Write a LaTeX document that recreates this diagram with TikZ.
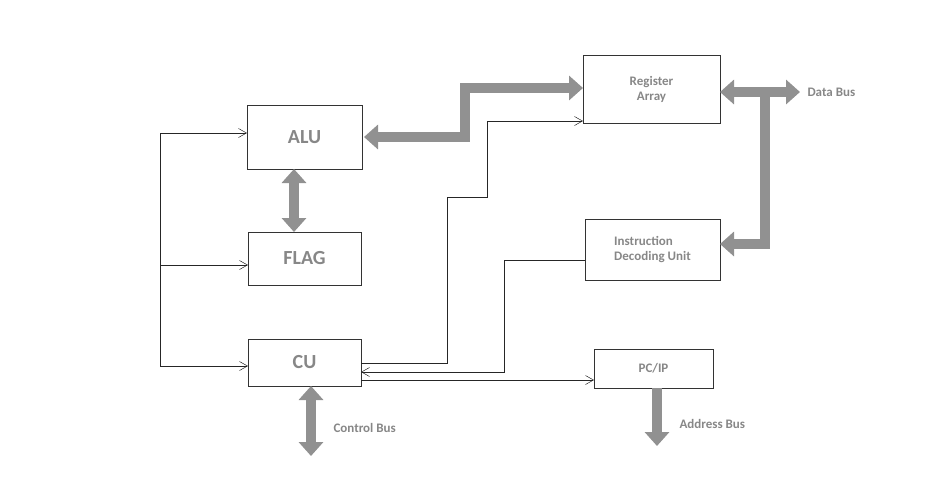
\documentclass[tikz,border=0pt]{standalone}
\usepackage{fontspec}
\setmainfont{Carlito}
\usetikzlibrary{arrows.meta}
\definecolor{bus}{RGB}{145,145,145}
\definecolor{txt}{RGB}{135,135,135}
\begin{document}
\begin{tikzpicture}[x=1pt,y=-1pt,
  box/.style={draw=black!80,line width=0.6pt,inner sep=0pt},
  big/.style={font=\bfseries\fontsize{20}{20}\selectfont,text=txt},
  small/.style={font=\bfseries\fontsize{13}{15}\selectfont,text=txt,align=center},
  lbl/.style={font=\bfseries\fontsize{13}{15}\selectfont,text=txt,anchor=west},
  thin/.style={draw=black!85,line width=0.6pt,-{Straight Barb[length=8pt,width=9pt,line width=0.5pt]}},
  thick/.style={draw=bus,line width=10pt,{Triangle[width=24pt,length=14pt]}-{Triangle[width=24pt,length=14pt]}},
  thickone/.style={draw=bus,line width=10pt,-{Triangle[width=24pt,length=14pt]}}]
\useasboundingbox (0,0) rectangle (940,483);
\path[box] (247,105) rectangle (362,169) node[midway,big] (alu) {ALU};
\path[box] (248,232) rectangle (361,285) node[midway,big] (flag) {FLAG};
\path[box] (248,339) rectangle (361,386) node[midway,big] (cu) {CU};
\path[box] (583,55) rectangle (720,123) node[midway,small] (reg) {Register\\Array};
\path[box] (585,219) rectangle (720,280) node[midway,small,align=left] (idu) {Instruction\\Decoding Unit};
\path[box] (594,349) rectangle (713,388) node[midway,small] (pc) {PC/IP};
% named anchor points
\coordinate (l1) at (160,133); \coordinate (l3) at (160,366);
\draw[line width=0.6pt,draw=black!85] (l1) -- (l3);
\draw[thin] (l1) -- (247,133);
\draw[thin] (160,265) -- (248,265);
\draw[thin] (l3) -- (248,366);
\draw[thin] (361,363) -- (447,363) -- (447,197) -- (487,197) -- (487,121) -- (583,121);
\draw[thin] (585,260) -- (504,260) -- (504,372) -- (361,372);
\draw[thin] (361,380) -- (594,380);
% buses
\draw[thick] (364,137) -- (465,137) -- (465,88) -- (583,88);
\draw[thick] (294,169) -- (294,232);
\draw[thick] (720,92) -- (800,92);
\draw[thickone,line join=miter] (765,92) -- (765,244) -- (720,244);
\draw[thick] (311,386) -- (311,456);
\draw[thickone] (657,388) -- (657,446);
\node[lbl] (db) at (804,92) {Data Bus};
\node[lbl] (cb) at (330,428) {Control Bus};
\node[lbl] (ab) at (676,424) {Address Bus};
\end{tikzpicture}
\end{document}
